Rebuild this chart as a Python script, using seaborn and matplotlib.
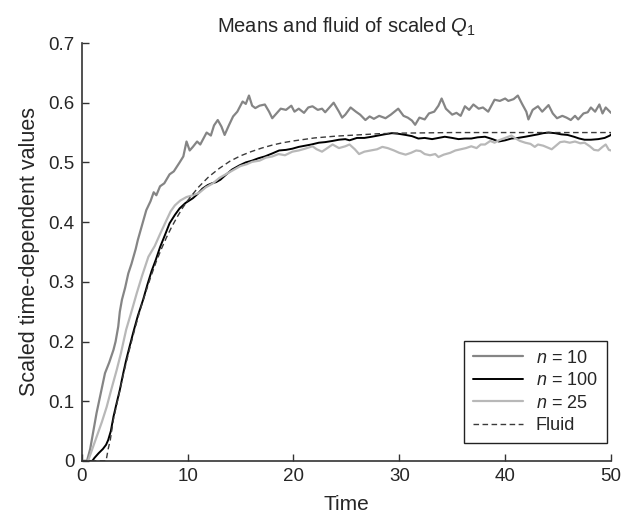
import numpy as np
import pandas as pd
import matplotlib
matplotlib.use('Agg')
import matplotlib.pyplot as plt
import seaborn as sns

sns.set_style('ticks')
plt.rcParams['font.family'] = ['Liberation Sans', 'DejaVu Sans']
plt.rcParams['mathtext.fontset'] = 'custom'
plt.rcParams['mathtext.rm'] = 'Liberation Sans'
plt.rcParams['mathtext.it'] = 'Liberation Sans:italic'

# data
t_n10 = [0, 0.5, 0.8, 1.1, 1.4, 1.7, 2.0, 2.2, 2.6, 3.0, 3.2, 3.45, 3.6, 3.8, 4.1, 4.4, 4.7, 5.1, 5.3, 5.7,
         6.1, 6.5, 6.8, 7.05, 7.4, 7.8, 8.3, 8.7, 9.25, 9.6, 9.9, 10.2, 10.5, 10.9, 11.2, 11.8, 12.2, 12.5,
         12.85, 13.2, 13.5, 13.9, 14.3, 14.7, 15.2, 15.5, 15.8, 16.1, 16.4, 16.8, 17.3, 17.7, 18.0, 18.4,
         18.8, 19.3, 19.8, 20.1, 20.5, 21.0, 21.4, 21.8, 22.3, 22.7, 23.0, 23.4, 23.8, 24.3, 24.6, 24.9,
         25.4, 25.9, 26.3, 26.8, 27.2, 27.6, 28.1, 28.7, 29.2, 29.9, 30.4, 30.8, 31.2, 31.5, 31.9, 32.4,
         32.8, 33.3, 33.7, 34.0, 34.4, 35.0, 35.4, 35.8, 36.2, 36.6, 37.0, 37.5, 37.9, 38.4, 39.0, 39.5,
         40.0, 40.3, 40.8, 41.2, 41.6, 42.0, 42.2, 42.6, 43.1, 43.5, 44.1, 44.5, 44.9, 45.4, 45.8, 46.2,
         46.6, 46.9, 47.4, 47.8, 48.1, 48.5, 48.9, 49.2, 49.5, 50.0]
y_n10 = [0, 0.0, 0.02, 0.05, 0.08, 0.105, 0.13, 0.147, 0.165, 0.186, 0.2, 0.225, 0.25, 0.27, 0.29, 0.314,
         0.33, 0.355, 0.37, 0.395, 0.42, 0.435, 0.45, 0.445, 0.46, 0.465, 0.48, 0.485, 0.5, 0.51, 0.535,
         0.52, 0.526, 0.535, 0.53, 0.55, 0.545, 0.562, 0.571, 0.56, 0.546, 0.562, 0.577, 0.585, 0.602,
         0.598, 0.612, 0.595, 0.591, 0.595, 0.597, 0.585, 0.574, 0.582, 0.59, 0.588, 0.595, 0.585, 0.59,
         0.583, 0.592, 0.594, 0.588, 0.59, 0.584, 0.592, 0.6, 0.585, 0.575, 0.58, 0.592, 0.585, 0.58,
         0.571, 0.577, 0.573, 0.578, 0.574, 0.58, 0.59, 0.578, 0.575, 0.57, 0.563, 0.575, 0.572, 0.582,
         0.585, 0.595, 0.607, 0.59, 0.58, 0.583, 0.578, 0.594, 0.588, 0.597, 0.59, 0.592, 0.585, 0.605,
         0.603, 0.607, 0.603, 0.606, 0.612, 0.598, 0.585, 0.572, 0.588, 0.594, 0.585, 0.596, 0.582, 0.574,
         0.578, 0.575, 0.571, 0.578, 0.572, 0.582, 0.584, 0.592, 0.585, 0.597, 0.582, 0.592, 0.583]

t_n100 = [0, 1.0, 1.2, 1.6, 2.0, 2.3, 2.5, 2.75, 3.0, 3.3, 3.6, 3.9, 4.2, 4.5, 4.85, 5.3, 5.8, 6.2, 6.6,
          7.0, 7.4, 7.9, 8.3, 8.8, 9.25, 9.8, 10.5, 11.0, 11.4, 11.9, 12.3, 12.7, 13.1, 13.6, 14.2, 14.9,
          15.5, 16.1, 16.7, 17.3, 18.0, 18.65, 19.3, 19.9, 20.5, 21.1, 21.7, 22.4, 23.0, 23.7, 24.3, 24.9,
          25.3, 26.0, 26.7, 27.4, 28.0, 28.6, 29.3, 29.9, 30.6, 31.2, 31.8, 32.4, 33.1, 33.7, 34.3, 35.0,
          35.6, 36.2, 36.8, 37.4, 38.1, 38.8, 39.4, 40.0, 40.6, 41.2, 41.9, 42.5, 43.1, 43.6, 44.1, 44.7,
          45.3, 45.9, 46.5, 47.0, 47.5, 48.1, 48.8, 49.4, 49.9, 50.0]
y_n100 = [0, 0, 0.005, 0.013, 0.02, 0.027, 0.035, 0.05, 0.074, 0.097, 0.119, 0.145, 0.169, 0.19, 0.214,
          0.243, 0.27, 0.295, 0.318, 0.337, 0.358, 0.38, 0.398, 0.412, 0.423, 0.432, 0.44, 0.448, 0.456,
          0.462, 0.465, 0.467, 0.471, 0.479, 0.488, 0.495, 0.5, 0.503, 0.507, 0.51, 0.515, 0.52, 0.521,
          0.523, 0.526, 0.528, 0.53, 0.533, 0.534, 0.536, 0.538, 0.539, 0.537, 0.541, 0.541, 0.543, 0.545,
          0.547, 0.549, 0.548, 0.546, 0.544, 0.54, 0.541, 0.539, 0.541, 0.543, 0.541, 0.539, 0.54, 0.54,
          0.542, 0.543, 0.539, 0.535, 0.537, 0.54, 0.541, 0.543, 0.545, 0.547, 0.549, 0.55, 0.549, 0.547,
          0.546, 0.543, 0.54, 0.538, 0.538, 0.539, 0.541, 0.545, 0.547]

t_n25 = [0, 0.6, 1.0, 1.4, 1.9, 2.35, 2.8, 3.3, 3.7, 4.2, 4.7, 5.2, 5.7, 6.3, 6.9, 7.4, 8.0, 8.4, 8.8, 9.3,
         9.9, 10.5, 11.1, 11.7, 12.4, 13.0, 13.6, 14.3, 15.0, 15.6, 16.1, 16.8, 17.4, 18.0, 18.6, 19.2,
         19.9, 20.5, 21.1, 21.8, 22.2, 22.7, 23.2, 23.7, 24.3, 24.9, 25.3, 25.8, 26.2, 26.7, 27.3, 27.9,
         28.4, 28.9, 29.5, 30.0, 30.6, 31.1, 31.6, 32.0, 32.4, 32.9, 33.4, 33.7, 34.2, 34.8, 35.3, 35.8,
         36.3, 36.8, 37.3, 37.7, 38.1, 38.6, 39.0, 39.4, 40.0, 40.6, 41.0, 41.4, 41.9, 42.4, 42.8, 43.1,
         43.6, 44.0, 44.4, 44.8, 45.2, 45.6, 46.1, 46.6, 47.1, 47.5, 48.0, 48.4, 48.8, 49.2, 49.5, 49.8, 50.0]
y_n25 = [0, 0, 0.02, 0.04, 0.065, 0.09, 0.12, 0.152, 0.18, 0.22, 0.25, 0.281, 0.31, 0.342, 0.36, 0.38,
         0.403, 0.418, 0.428, 0.436, 0.442, 0.445, 0.449, 0.458, 0.465, 0.474, 0.48, 0.487, 0.494, 0.497,
         0.501, 0.503, 0.508, 0.51, 0.514, 0.512, 0.518, 0.52, 0.523, 0.527, 0.522, 0.518, 0.524, 0.53,
         0.524, 0.527, 0.53, 0.522, 0.514, 0.518, 0.52, 0.522, 0.526, 0.524, 0.52, 0.516, 0.513, 0.516,
         0.52, 0.519, 0.514, 0.512, 0.514, 0.509, 0.513, 0.516, 0.52, 0.522, 0.524, 0.527, 0.524, 0.53,
         0.53, 0.536, 0.533, 0.537, 0.541, 0.545, 0.54, 0.536, 0.533, 0.531, 0.526, 0.53, 0.528, 0.525,
         0.522, 0.528, 0.534, 0.535, 0.533, 0.535, 0.532, 0.533, 0.527, 0.521, 0.52, 0.526, 0.53, 0.521, 0.52]

t_fluid = [0, 2.3, 2.5, 2.7, 3.0, 3.5, 4.0, 4.5, 5.0, 5.5, 6.0, 6.5, 7.0, 7.5, 8.0, 8.5, 9.0, 9.5, 10.0,
           11.0, 12.0, 13.0, 14.0, 15.0, 16.0, 17.0, 18.0, 19.0, 20.0, 22.0, 24.0, 26.0, 28.0, 30.0, 35.0,
           40.0, 45.0, 50.0]
y_fluid = [0, 0, 0.02, 0.035, 0.07, 0.11, 0.15, 0.186, 0.22, 0.252, 0.28, 0.307, 0.332, 0.354, 0.374,
           0.392, 0.408, 0.423, 0.436, 0.458, 0.476, 0.49, 0.502, 0.511, 0.518, 0.524, 0.529, 0.533, 0.536,
           0.541, 0.544, 0.546, 0.548, 0.549, 0.55, 0.55, 0.55, 0.55]

fig = plt.figure(figsize=(6.31, 5.15), dpi=100)
ax = fig.add_axes([0.1295, 0.105, 0.8388, 0.8115])

sns.lineplot(x=t_n10, y=y_n10, ax=ax, color='#858585', lw=1.6, label=r'$n$ = 10', estimator=None)
sns.lineplot(x=t_n100, y=y_n100, ax=ax, color='black', lw=1.4, label=r'$n$ = 100', estimator=None)
sns.lineplot(x=t_n25, y=y_n25, ax=ax, color='#b8b8b8', lw=1.6, label=r'$n$ = 25', estimator=None)
sns.lineplot(x=t_fluid, y=y_fluid, ax=ax, color='#3a3a3a', lw=1.0, ls=(0, (4, 2.5)), label='Fluid', estimator=None)

ax.set_xlim(0, 50)
ax.set_ylim(0, 0.7)
ax.set_xticks([0, 10, 20, 30, 40, 50])
ax.set_yticks([0, 0.1, 0.2, 0.3, 0.4, 0.5, 0.6, 0.7])
ax.set_yticklabels(['0', '0.1', '0.2', '0.3', '0.4', '0.5', '0.6', '0.7'])
ax.tick_params(direction='in', length=5, width=1, labelsize=13.5, color='#333333', pad=5)
for s in ['top', 'right']:
    ax.spines[s].set_visible(False)
for s in ['left', 'bottom']:
    ax.spines[s].set_color('#333333')
    ax.spines[s].set_linewidth(1.2)

ax.set_xlabel('Time', fontsize=15, labelpad=7)
ax.set_ylabel('Scaled time-dependent values', fontsize=15.5, labelpad=6)
ax.set_title(r'Means and fluid of scaled $Q_1$', fontsize=14.5, pad=8)

leg = ax.legend(loc='lower right', bbox_to_anchor=(0.992, 0.043), borderaxespad=0,
                fontsize=13, handlelength=2.8, labelspacing=0.3, fancybox=False,
                framealpha=1, edgecolor='#222222', borderpad=0.5, handletextpad=0.7)
leg.get_frame().set_linewidth(1.0)

fig.savefig('out.png', dpi=100)
